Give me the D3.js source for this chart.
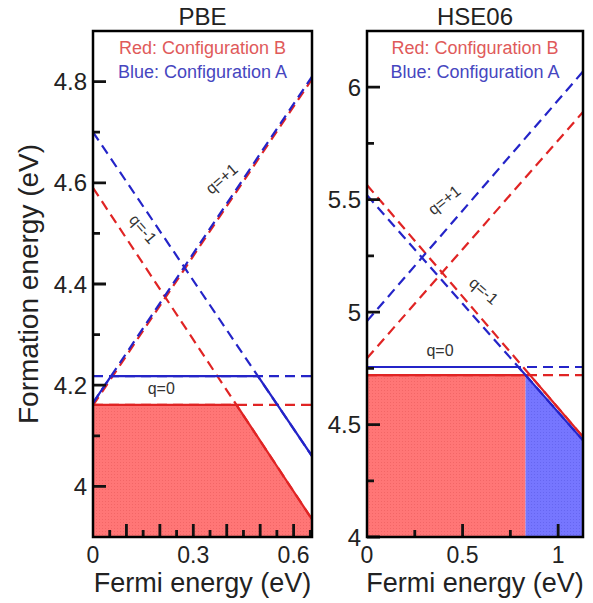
<!DOCTYPE html>
<html>
<head>
<meta charset="utf-8">
<script src="https://cdn.jsdelivr.net/npm/d3@7"></script>
<style>
  body { margin: 0; background: #fff; }
  text { font-family: "Liberation Sans", Arial, sans-serif; }
</style>
</head>
<body>
<svg id="chart"></svg>
<script>
// formation energy lines, [value at Ef = 0, value at right edge], charges in order +1, 0, -1
var charges = ["+1", "0", "-1"];
var pbeB = [[4.160, 4.805], [4.161, 4.161], [4.590, 3.935]];
var pbeA = [[4.165, 4.810], [4.218, 4.218], [4.700, 4.060]];
var hseB = [[4.795, 5.890], [4.720, 4.720], [5.565, 4.445]];
var hseA = [[4.960, 6.070], [4.756, 4.756], [5.520, 4.430]];

var pbeXMax = 0.655, hseXMax = 1.13;
var pbeYDomain = [3.9, 4.9], hseYDomain = [4, 6.25];

var pbeXTicks = [0, 0.3, 0.6], hseXTicks = [0, 0.5, 1];
var pbeYTicks = [4, 4.2, 4.4, 4.6, 4.8], hseYTicks = [4, 4.5, 5, 5.5, 6];

// charge labels: [Ef, E, angle]
var pbeLabels = [[0.387, 4.606, -41], [0.204, 4.19, 0], [0.147, 4.507, 49]];
var hseLabels = [[0.408, 5.494, -39], [0.382, 4.823, 0], [0.607, 5.09, 41]];

var red = "#e02424", blue = "#2424c8";

var svg = d3.select("#chart").attr("width", 593).attr("height", 603);
var defs = svg.append("defs");

function dots(id, base, dot) {
  var p = defs.append("pattern").attr("id", id)
    .attr("width", 3).attr("height", 3).attr("patternUnits", "userSpaceOnUse");
  p.append("rect").attr("width", 3).attr("height", 3).attr("fill", base);
  p.append("rect").attr("width", 1).attr("height", 1).attr("fill", dot);
}
dots("dotRed", "#ff7676", "#f26666");
dots("dotBlue", "#7676ff", "#6666f0");

var yTop = 31, yBottom = 537;

var panels = [
  {title: "PBE", left: 93, right: 312, xMax: pbeXMax, yDom: pbeYDomain,
   B: pbeB, A: pbeA, xTicks: pbeXTicks, yTicks: pbeYTicks, labels: pbeLabels,
   xLong: [0.1, 0.2, 0.3, 0.4, 0.5, 0.6], xShort: [0.05, 0.15, 0.25, 0.35, 0.45, 0.55, 0.65],
   yLong: pbeYTicks, yShort: [4.1, 4.3, 4.5, 4.7],
   fmt: function(d) { return d === 0 ? "0" : d3.format(".1f")(d); },
   yfmt: function(d) { return d === 4 ? "4" : d3.format(".1f")(d); }},
  {title: "HSE06", left: 367, right: 583, xMax: hseXMax, yDom: hseYDomain,
   B: hseB, A: hseA, xTicks: hseXTicks, yTicks: hseYTicks, labels: hseLabels,
   xLong: [0.5, 1], xShort: [0.25, 0.75], yLong: hseYTicks, yShort: [4.25, 4.75, 5.25, 5.75],
   fmt: function(d) { return String(d); }, yfmt: function(d) { return String(d); }}
];

var scales = [];

panels.forEach(function(p, pi) {
  var x = d3.scaleLinear().domain([0, p.xMax]).range([p.left, p.right]);
  var y = d3.scaleLinear().domain(p.yDom).range([yBottom, yTop]);
  scales.push({x: x, y: y});

  function val(l, e) { return l[0] + (l[1] - l[0]) * e / p.xMax; }

  // break points where any two lines cross
  var all = p.B.concat(p.A);
  var br = [0, p.xMax];
  for (var i = 0; i < all.length; i++) {
    for (var j = i + 1; j < all.length; j++) {
      var s1 = (all[i][1] - all[i][0]) / p.xMax, s2 = (all[j][1] - all[j][0]) / p.xMax;
      if (s1 === s2) continue;
      var e = (all[j][0] - all[i][0]) / (s1 - s2);
      if (e > 0 && e < p.xMax) br.push(e);
    }
  }
  br.sort(d3.ascending);

  function env(set, e) { return d3.min(set, function(l) { return val(l, e); }); }

  var clipId = "clip" + pi;
  defs.append("clipPath").attr("id", clipId).append("rect")
    .attr("x", p.left).attr("y", yTop).attr("width", p.right - p.left).attr("height", yBottom - yTop);
  var g = svg.append("g").attr("clip-path", "url(#" + clipId + ")");

  // fill under the lowest envelope, coloured by configuration
  var segs = [];
  for (var k = 0; k < br.length - 1; k++) {
    var mid = (br[k] + br[k + 1]) / 2;
    var who = env(p.B, mid) <= env(p.A, mid) ? "B" : "A";
    if (segs.length && segs[segs.length - 1].who === who) segs[segs.length - 1].xs.push(br[k + 1]);
    else segs.push({who: who, xs: [br[k], br[k + 1]]});
  }
  var area = d3.area()
    .x(function(d) { return x(d); })
    .y0(yBottom)
    .y1(function(d) { return y(Math.min(env(p.B, d), env(p.A, d))); });
  segs.forEach(function(s) {
    g.append("path").attr("d", area(s.xs))
      .attr("fill", s.who === "B" ? "url(#dotRed)" : "url(#dotBlue)");
  });

  var line = d3.line().x(function(d) { return x(d[0]); }).y(function(d) { return y(d[1]); });

  // dashed full lines
  [["B", red], ["A", blue]].forEach(function(c) {
    p[c[0]].forEach(function(l) {
      g.append("path").attr("d", line([[0, l[0]], [p.xMax, l[1]]]))
        .attr("fill", "none").attr("stroke", c[1]).attr("stroke-width", 2.2)
        .attr("stroke-dasharray", "10,6");
    });
  });
  // solid envelopes
  [["B", red], ["A", blue]].forEach(function(c) {
    var pts = br.map(function(e) { return [e, env(p[c[0]], e)]; });
    g.append("path").attr("d", line(pts))
      .attr("fill", "none").attr("stroke", c[1]).attr("stroke-width", 2.2);
  });

  // charge labels
  p.labels.forEach(function(l, li) {
    svg.append("text")
      .attr("transform", "translate(" + x(l[0]) + "," + y(l[1]) + ") rotate(" + l[2] + ")")
      .attr("text-anchor", "middle").attr("dominant-baseline", "middle")
      .attr("font-size", 16).attr("fill", "#333")
      .text("q=" + charges[li]);
  });

  // legend
  svg.append("text").attr("x", (p.left + p.right) / 2).attr("y", 54)
    .attr("text-anchor", "middle").attr("font-size", 18).attr("fill", "#e05a5a")
    .text("Red: Configuration B");
  svg.append("text").attr("x", (p.left + p.right) / 2).attr("y", 78)
    .attr("text-anchor", "middle").attr("font-size", 18).attr("fill", "#4646c0")
    .text("Blue: Configuration A");

  // tick labels
  svg.append("g").selectAll("text").data(p.xTicks).join("text")
    .attr("x", function(d) { return x(d); }).attr("y", 563)
    .attr("text-anchor", "middle").attr("font-size", 23).attr("fill", "#222")
    .text(p.fmt);
  svg.append("g").selectAll("text").data(p.yTicks).join("text")
    .attr("x", p.left - 6).attr("y", function(d) { return y(d); })
    .attr("dy", "0.36em")
    .attr("text-anchor", "end").attr("font-size", 24).attr("fill", "#222")
    .text(p.yfmt);

  svg.append("text").attr("x", (p.left + p.right) / 2).attr("y", 25)
    .attr("text-anchor", "middle").attr("font-size", 24).attr("fill", "#222").text(p.title);
  svg.append("text").attr("x", (p.left + p.right) / 2).attr("y", 592)
    .attr("text-anchor", "middle").attr("font-size", 27).attr("fill", "#222").text("Fermi energy (eV)");
});

// inward ticks and frames, drawn last so they sit on top
panels.forEach(function(p, pi) {
  var x = scales[pi].x, y = scales[pi].y;
  var path = d3.path();
  p.xLong.forEach(function(d) { path.moveTo(x(d), yBottom); path.lineTo(x(d), yBottom - 13); });
  p.xShort.forEach(function(d) { path.moveTo(x(d), yBottom); path.lineTo(x(d), yBottom - 7); });
  p.yLong.forEach(function(d) { path.moveTo(p.left, y(d)); path.lineTo(p.left + 13, y(d)); });
  p.yShort.forEach(function(d) { path.moveTo(p.left, y(d)); path.lineTo(p.left + 7, y(d)); });
  svg.append("path").attr("d", path.toString())
    .attr("fill", "none").attr("stroke", "#111").attr("stroke-width", 2.8);

  svg.append("rect").attr("x", p.left).attr("y", yTop)
    .attr("width", p.right - p.left).attr("height", yBottom - yTop)
    .attr("fill", "none").attr("stroke", "#000").attr("stroke-width", 2.5);
});

svg.append("text").attr("transform", "translate(38,284) rotate(-90)")
  .attr("text-anchor", "middle").attr("font-size", 28).attr("fill", "#222")
  .text("Formation energy (eV)");
</script>
</body>
</html>
